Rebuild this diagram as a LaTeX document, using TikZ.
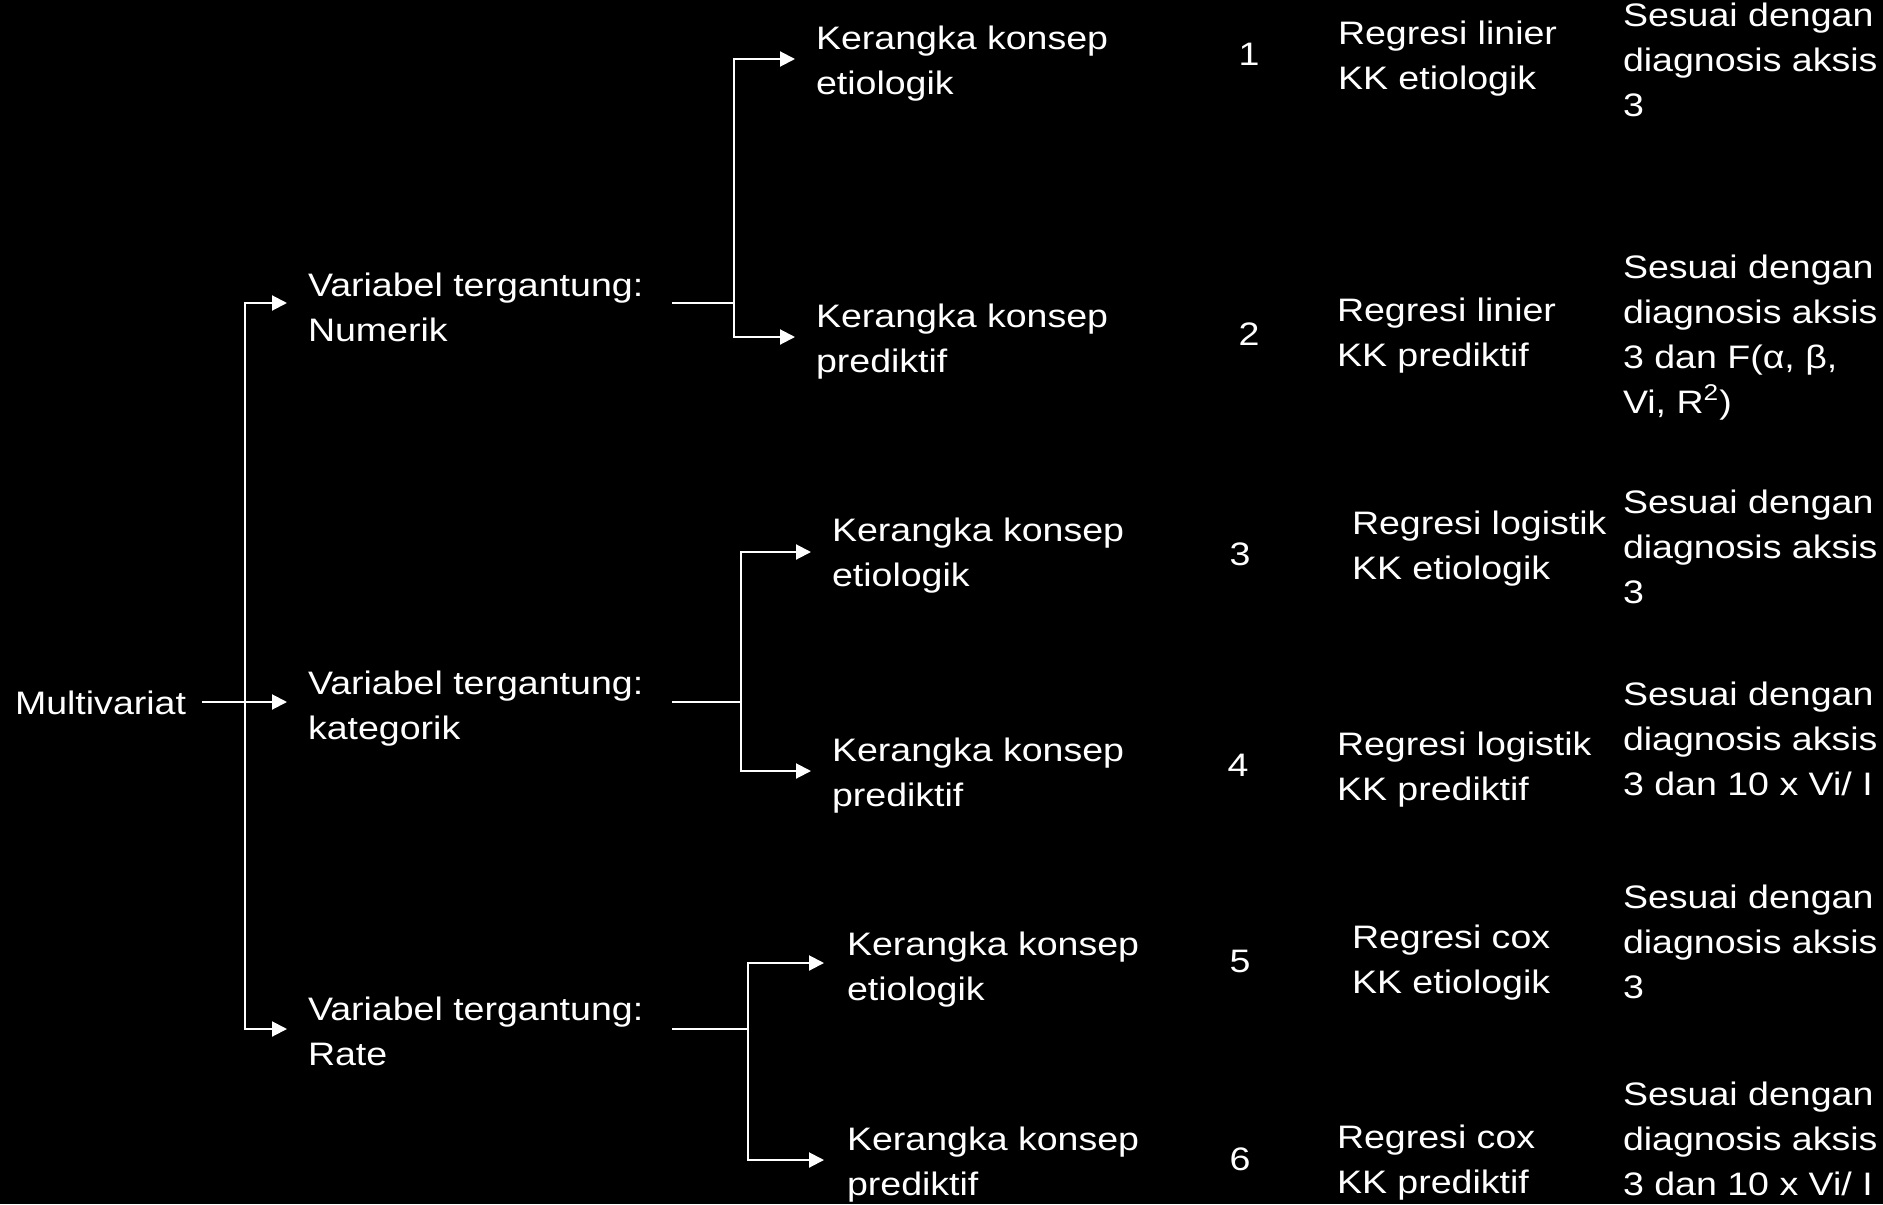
\documentclass[tikz,border=0pt]{standalone}
\usepackage{fontspec}
\setmainfont{Liberation Sans}
\usepackage{graphicx}
\usetikzlibrary{arrows.meta}
% text is set slightly wide, first line on the node's baseline
\newcommand{\widetext}[1]{\scalebox{1.155}[1]{#1}}
\newcommand{\stackedtext}[1]{\widetext{\begin{tabular}[t]{@{}l@{}}#1\end{tabular}}}

\begin{document}
\begin{tikzpicture}[x=0.5pt, y=-0.5pt,
  txt/.style={anchor=base west, inner sep=0pt, outer sep=0pt, text=white,
              font=\fontsize{16.25}{22.5}\selectfont},
  numtxt/.style={txt, anchor=base},
  wire/.style={draw=white, line width=1pt},
  tip/.style={-{Triangle[length=7.5pt, width=7.5pt]}},
  twotips/.style={{Triangle[length=7.5pt, width=7.5pt]}-{Triangle[length=7.5pt, width=7.5pt]}}
]
\fill[black] (0,0) rectangle (1883,1204);
\useasboundingbox (0,0) rectangle (1883,1204);

% ---------- root ----------
\node[txt] (mv) at (15,714) {\widetext{Multivariat}};
\coordinate (mvout) at (202,702);
\coordinate (t1) at (245,303);
\coordinate (t3) at (245,1029);
\coordinate (a1) at (287,303);
\coordinate (a2) at (287,702);
\coordinate (a3) at (287,1029);
\draw[wire, twotips] (a1) -- (t1) -- (t3) -- (a3);
\draw[wire, tip] (mvout) -- (a2);

% ---------- dependent variable type ----------
\node[txt] (vnum) at (308,296)  {\stackedtext{Variabel tergantung:\\Numerik}};
\node[txt] (vkat) at (308,694)  {\stackedtext{Variabel tergantung:\\kategorik}};
\node[txt] (vrat) at (308,1020) {\stackedtext{Variabel tergantung:\\Rate}};

% branches of the numeric group
\coordinate (o1) at (672,303);   \coordinate (j1) at (734,303);
\coordinate (c1) at (734,59);    \coordinate (c2) at (734,337);
\coordinate (k1t) at (795,59);   \coordinate (k2t) at (795,337);
\draw[wire] (o1) -- (j1);
\draw[wire, twotips] (k1t) -- (c1) -- (c2) -- (k2t);

% branches of the categorical group
\coordinate (o2) at (672,702);   \coordinate (j2) at (741,702);
\coordinate (c3) at (741,552);   \coordinate (c4) at (741,771);
\coordinate (k3t) at (811,552);  \coordinate (k4t) at (811,771);
\draw[wire] (o2) -- (j2);
\draw[wire, twotips] (k3t) -- (c3) -- (c4) -- (k4t);

% branches of the rate group
\coordinate (o3) at (672,1029);  \coordinate (j3) at (748,1029);
\coordinate (c5) at (748,963);   \coordinate (c6) at (748,1160);
\coordinate (k5t) at (824,963);  \coordinate (k6t) at (824,1160);
\draw[wire] (o3) -- (j3);
\draw[wire, twotips] (k5t) -- (c5) -- (c6) -- (k6t);

% ---------- conceptual frameworks ----------
\node[txt] (k1) at (816,50)   {\stackedtext{Kerangka konsep\\etiologik}};
\node[txt] (k2) at (816,327)  {\stackedtext{Kerangka konsep\\prediktif}};
\node[txt] (k3) at (832,541)  {\stackedtext{Kerangka konsep\\etiologik}};
\node[txt] (k4) at (832,761)  {\stackedtext{Kerangka konsep\\prediktif}};
\node[txt] (k5) at (847,955)  {\stackedtext{Kerangka konsep\\etiologik}};
\node[txt] (k6) at (847,1150) {\stackedtext{Kerangka konsep\\prediktif}};

% ---------- case numbers ----------
\node[numtxt] (n1) at (1249,66)   {\widetext{1}};
\node[numtxt] (n2) at (1249,345)  {\widetext{2}};
\node[numtxt] (n3) at (1240,565)  {\widetext{3}};
\node[numtxt] (n4) at (1238,776)  {\widetext{4}};
\node[numtxt] (n5) at (1240,972)  {\widetext{5}};
\node[numtxt] (n6) at (1240,1170) {\widetext{6}};

% ---------- regression method ----------
\node[txt] (r1) at (1338,45)   {\stackedtext{Regresi linier\\KK etiologik}};
\node[txt] (r2) at (1337,321)  {\stackedtext{Regresi linier\\KK prediktif}};
\node[txt] (r3) at (1352,534)  {\stackedtext{Regresi logistik\\KK etiologik}};
\node[txt] (r4) at (1337,755)  {\stackedtext{Regresi logistik\\KK prediktif}};
\node[txt] (r5) at (1352,948)  {\stackedtext{Regresi cox\\KK etiologik}};
\node[txt] (r6) at (1337,1148) {\stackedtext{Regresi cox\\KK prediktif}};

% ---------- sample size rule ----------
\node[txt] (s1) at (1623,27)   {\stackedtext{Sesuai dengan\\diagnosis aksis\\3}};
\node[txt] (s2) at (1623,278)  {\stackedtext{Sesuai dengan\\diagnosis aksis\\3 dan F(α, β,\\Vi, R\textsuperscript{2})}};
\node[txt] (s3) at (1623,513)  {\stackedtext{Sesuai dengan\\diagnosis aksis\\3}};
\node[txt] (s4) at (1623,705)  {\stackedtext{Sesuai dengan\\diagnosis aksis\\3 dan 10 x Vi/ I}};
\node[txt] (s5) at (1623,908)  {\stackedtext{Sesuai dengan\\diagnosis aksis\\3}};
\node[txt] (s6) at (1623,1105) {\stackedtext{Sesuai dengan\\diagnosis aksis\\3 dan 10 x Vi/ I}};
\end{tikzpicture}
\end{document}
